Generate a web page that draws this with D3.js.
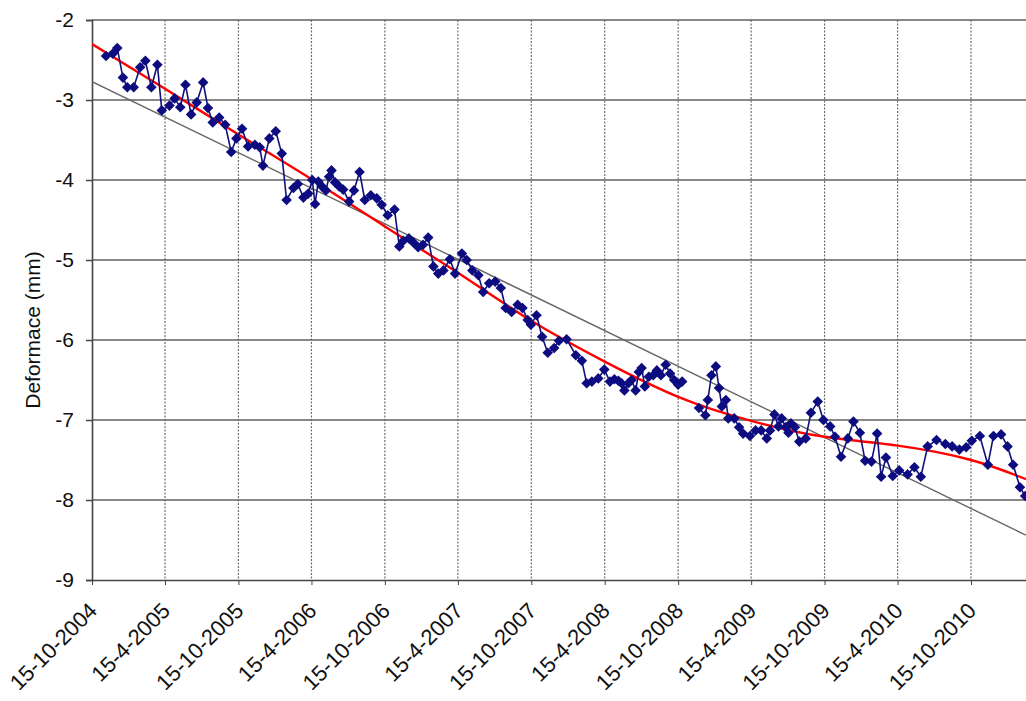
<!DOCTYPE html>
<html>
<head>
<meta charset="utf-8">
<script src="https://cdn.jsdelivr.net/npm/d3@7"></script>
<style>
  html, body { margin: 0; padding: 0; background: #fff; }
  text { font-family: "Liberation Sans", Arial, sans-serif; }
</style>
</head>
<body>
<div class="chart"></div>
<script>
// Measured deformation (mm) by acquisition date
const obsDates = [
  "2004-11-19","2004-12-06","2004-12-17","2004-12-31","2005-01-11","2005-01-27","2005-02-12","2005-02-25","2005-03-12","2005-03-27",
  "2005-04-07","2005-04-26","2005-05-09","2005-05-23","2005-06-05","2005-06-19","2005-07-03","2005-07-19","2005-07-31","2005-08-12",
  "2005-08-28","2005-09-12","2005-09-27","2005-10-10","2005-10-24","2005-11-08","2005-11-25","2005-12-07","2005-12-15","2005-12-31",
  "2006-01-16","2006-01-31","2006-02-12","2006-03-01","2006-03-12","2006-03-26","2006-04-07","2006-04-17","2006-04-24","2006-05-02",
  "2006-05-11","2006-05-21","2006-05-29","2006-06-04","2006-06-13","2006-06-23","2006-07-03","2006-07-18","2006-07-30","2006-08-13",
  "2006-08-26","2006-09-10","2006-09-25","2006-10-07","2006-10-22","2006-11-08","2006-11-20","2006-11-30","2006-12-14","2006-12-25",
  "2007-01-06","2007-01-18","2007-01-31","2007-02-13","2007-02-25","2007-03-10","2007-03-26","2007-04-08","2007-04-25","2007-05-07",
  "2007-05-21","2007-06-05","2007-06-17","2007-07-02","2007-07-17","2007-07-31","2007-08-12","2007-08-27","2007-09-11","2007-09-23",
  "2007-10-06","2007-10-14","2007-10-28","2007-11-11","2007-11-25","2007-12-11","2007-12-23","2008-01-11","2008-02-03","2008-02-18",
  "2008-03-01","2008-03-14","2008-03-30","2008-04-14","2008-04-28","2008-05-09","2008-05-19","2008-05-27","2008-06-03","2008-06-13",
  "2008-06-21","2008-07-01","2008-07-09","2008-07-16","2008-07-24","2008-08-03","2008-08-14","2008-08-23","2008-09-02","2008-09-14",
  "2008-09-25","2008-10-05","2008-10-15","2008-10-25","2008-11-15","2008-12-06","2008-12-22","2008-12-28","2009-01-06","2009-01-17",
  "2009-01-25","2009-02-01","2009-02-11","2009-02-17","2009-03-04","2009-03-16","2009-03-26","2009-04-12","2009-04-26","2009-05-10",
  "2009-05-24","2009-06-01","2009-06-12","2009-06-22","2009-06-30","2009-07-10","2009-07-17","2009-07-23","2009-08-02","2009-08-13",
  "2009-08-29","2009-09-11","2009-09-28","2009-10-12","2009-10-29","2009-11-10","2009-11-25","2009-12-12","2009-12-26","2010-01-11",
  "2010-01-24","2010-02-09","2010-02-23","2010-03-05","2010-03-17","2010-04-03","2010-04-19","2010-05-10","2010-05-27","2010-06-12",
  "2010-06-29","2010-07-21","2010-08-12","2010-08-29","2010-09-16","2010-10-03","2010-10-17","2010-11-06","2010-11-26","2010-12-10",
  "2010-12-29","2011-01-14","2011-01-28","2011-02-14","2011-02-27"
];
const obsValues = [
  -2.45,-2.42,-2.35,-2.72,-2.84,-2.84,-2.59,-2.51,-2.84,-2.56,
  -3.13,-3.07,-2.98,-3.09,-2.81,-3.18,-3.03,-2.78,-3.10,-3.28,
  -3.22,-3.31,-3.65,-3.48,-3.36,-3.58,-3.56,-3.59,-3.82,-3.48,
  -3.39,-3.67,-4.25,-4.10,-4.05,-4.22,-4.17,-4.00,-4.30,-4.02,
  -4.08,-4.13,-3.96,-3.88,-4.03,-4.08,-4.12,-4.27,-4.13,-3.90,
  -4.25,-4.19,-4.23,-4.31,-4.44,-4.37,-4.83,-4.76,-4.73,-4.78,
  -4.84,-4.81,-4.72,-5.08,-5.17,-5.13,-4.99,-5.17,-4.92,-5.00,
  -5.13,-5.19,-5.40,-5.29,-5.27,-5.35,-5.60,-5.65,-5.56,-5.60,
  -5.75,-5.81,-5.69,-5.96,-6.16,-6.10,-6.01,-5.99,-6.19,-6.26,
  -6.54,-6.52,-6.48,-6.37,-6.52,-6.49,-6.51,-6.54,-6.63,-6.54,
  -6.50,-6.63,-6.40,-6.35,-6.58,-6.46,-6.44,-6.38,-6.44,-6.31,
  -6.42,-6.50,-6.56,-6.52,null,-6.85,-6.94,-6.75,-6.44,-6.33,
  -6.60,-6.83,-6.75,-6.98,-6.98,-7.09,-7.17,-7.20,-7.13,-7.13,
  -7.23,-7.13,-6.93,-7.08,-6.98,-7.09,-7.16,-7.04,-7.09,-7.27,
  -7.23,-6.91,-6.77,-7.00,-7.08,-7.21,-7.46,-7.23,-7.02,-7.16,
  -7.51,-7.52,-7.17,-7.71,-7.47,-7.70,-7.63,-7.68,-7.59,-7.71,
  -7.33,-7.25,-7.30,-7.33,-7.37,-7.34,-7.26,-7.20,-7.56,-7.20,
  -7.18,-7.33,-7.56,-7.84,-7.95
];

// Polynomial trend (red)
const trendDates = ["2004-10-15","2005-04-15","2005-10-15","2006-04-15","2006-10-15","2007-04-15","2007-10-15",
  "2008-04-15","2008-10-15","2009-04-15","2009-10-15","2010-04-15","2010-10-15","2011-03-01"];
const trendValues = [-2.30,-2.86,-3.43,-3.99,-4.58,-5.16,-5.76,-6.27,-6.71,-7.01,-7.21,-7.32,-7.50,-7.74];

// Linear trend (grey)
const linDates = ["2004-10-15","2011-03-01"];
const linValues = [-2.77,-8.44];

// Axis ticks
const xTickLabels = ["15-10-2004","15-4-2005","15-10-2005","15-4-2006","15-10-2006","15-4-2007","15-10-2007",
  "15-4-2008","15-10-2008","15-4-2009","15-10-2009","15-4-2010","15-10-2010"];
const yTicks = [-2,-3,-4,-5,-6,-7,-8,-9];

const chartWidth = 1026;
const chartHeight = 701;
const plotLeft = 92, plotTop = 20, plotBottom = 580;

const parseIso = d3.timeParse("%Y-%m-%d");
const parseTick = d3.timeParse("%d-%m-%Y");

const obs = obsDates.map((d, i) => ({ date: parseIso(d), value: obsValues[i] }));
const trend = trendDates.map((d, i) => ({ date: parseIso(d), value: trendValues[i] }));
const lin = linDates.map((d, i) => ({ date: parseIso(d), value: linValues[i] }));
const xTicks = xTickLabels.map(parseTick);

const svg = d3.select(".chart")
  .append("svg")
  .attr("width", chartWidth)
  .attr("height", chartHeight)
  .style("display", "block");

svg.append("rect").attr("width", chartWidth).attr("height", chartHeight).attr("fill", "#fff");

// Scales: 15-10-2004 .. 15-10-2010 spans 92..971, the plot runs on past the right edge
const x = d3.scaleTime()
  .domain([xTicks[0], xTicks[xTicks.length - 1]])
  .range([plotLeft, 971]);

const y = d3.scaleLinear()
  .domain([-2, -9])
  .range([plotTop, plotBottom]);

svg.append("defs").append("clipPath").attr("id", "plot")
  .append("rect").attr("x", plotLeft).attr("y", plotTop - 6)
  .attr("width", chartWidth - plotLeft).attr("height", plotBottom - plotTop + 12);

// Vertical grid (dotted)
svg.append("g")
  .selectAll("line")
  .data(xTicks.slice(1))
  .join("line")
  .attr("x1", d => x(d)).attr("x2", d => x(d))
  .attr("y1", plotTop).attr("y2", plotBottom)
  .attr("stroke", "#6e6e6e")
  .attr("stroke-width", 1.2)
  .attr("stroke-dasharray", "2,1.5");

// Horizontal grid
svg.append("g")
  .selectAll("line")
  .data(yTicks.slice(0, -1))
  .join("line")
  .attr("x1", plotLeft).attr("x2", chartWidth)
  .attr("y1", d => y(d)).attr("y2", d => y(d))
  .attr("stroke", "#606060")
  .attr("stroke-width", 1.5);

// Y axis
const yAxis = svg.append("g")
  .attr("transform", `translate(${plotLeft},0)`)
  .call(d3.axisLeft(y).tickValues(yTicks).tickSize(6).tickPadding(12));
yAxis.select(".domain").attr("stroke", "#444").attr("stroke-width", 1.6);
yAxis.selectAll(".tick line").attr("stroke", "#444").attr("stroke-width", 1.5);
yAxis.selectAll("text")
  .attr("font-size", 21)
  .attr("fill", "#111")
  .text(d => String(d));

// X axis
const xAxis = svg.append("g")
  .attr("transform", `translate(0,${plotBottom})`)
  .call(d3.axisBottom(x).tickValues(xTicks).tickSize(5).tickFormat((d, i) => xTickLabels[i]));
xAxis.select(".domain").attr("d", `M${plotLeft},0.5H${chartWidth}`).attr("stroke", "#444").attr("stroke-width", 1.6);
xAxis.selectAll(".tick line").attr("stroke", "#444");
xAxis.selectAll("text")
  .attr("font-size", 22)
  .attr("fill", "#111")
  .attr("text-anchor", "end")
  .attr("y", 0)
  .attr("dy", 0)
  .attr("transform", "translate(6,32) rotate(-45)");

// Axis title
svg.append("text")
  .attr("transform", `translate(40,${(plotTop + plotBottom) / 2 + 30}) rotate(-90)`)
  .attr("text-anchor", "middle")
  .attr("font-size", 21)
  .attr("fill", "#111")
  .text("Deformace (mm)");

const plot = svg.append("g").attr("clip-path", "url(#plot)");

// Linear trend
plot.append("path")
  .datum(lin)
  .attr("d", d3.line().x(d => x(d.date)).y(d => y(d.value)))
  .attr("fill", "none")
  .attr("stroke", "#666")
  .attr("stroke-width", 1.4);

// Polynomial trend
plot.append("path")
  .datum(trend)
  .attr("d", d3.line().x(d => x(d.date)).y(d => y(d.value)).curve(d3.curveNatural))
  .attr("fill", "none")
  .attr("stroke", "#ff0000")
  .attr("stroke-width", 2.4);

// Measured series
plot.append("path")
  .datum(obs)
  .attr("d", d3.line().defined(d => d.value !== null).x(d => x(d.date)).y(d => y(d.value)))
  .attr("fill", "none")
  .attr("stroke", "#10107a")
  .attr("stroke-width", 1.6);

plot.append("g")
  .selectAll("path")
  .data(obs.filter(d => d.value !== null))
  .join("path")
  .attr("transform", d => `translate(${x(d.date)},${y(d.value)}) rotate(45)`)
  .attr("d", d3.symbol(d3.symbolSquare, 56))
  .attr("fill", "#0c0c80");
</script>
</body>
</html>
